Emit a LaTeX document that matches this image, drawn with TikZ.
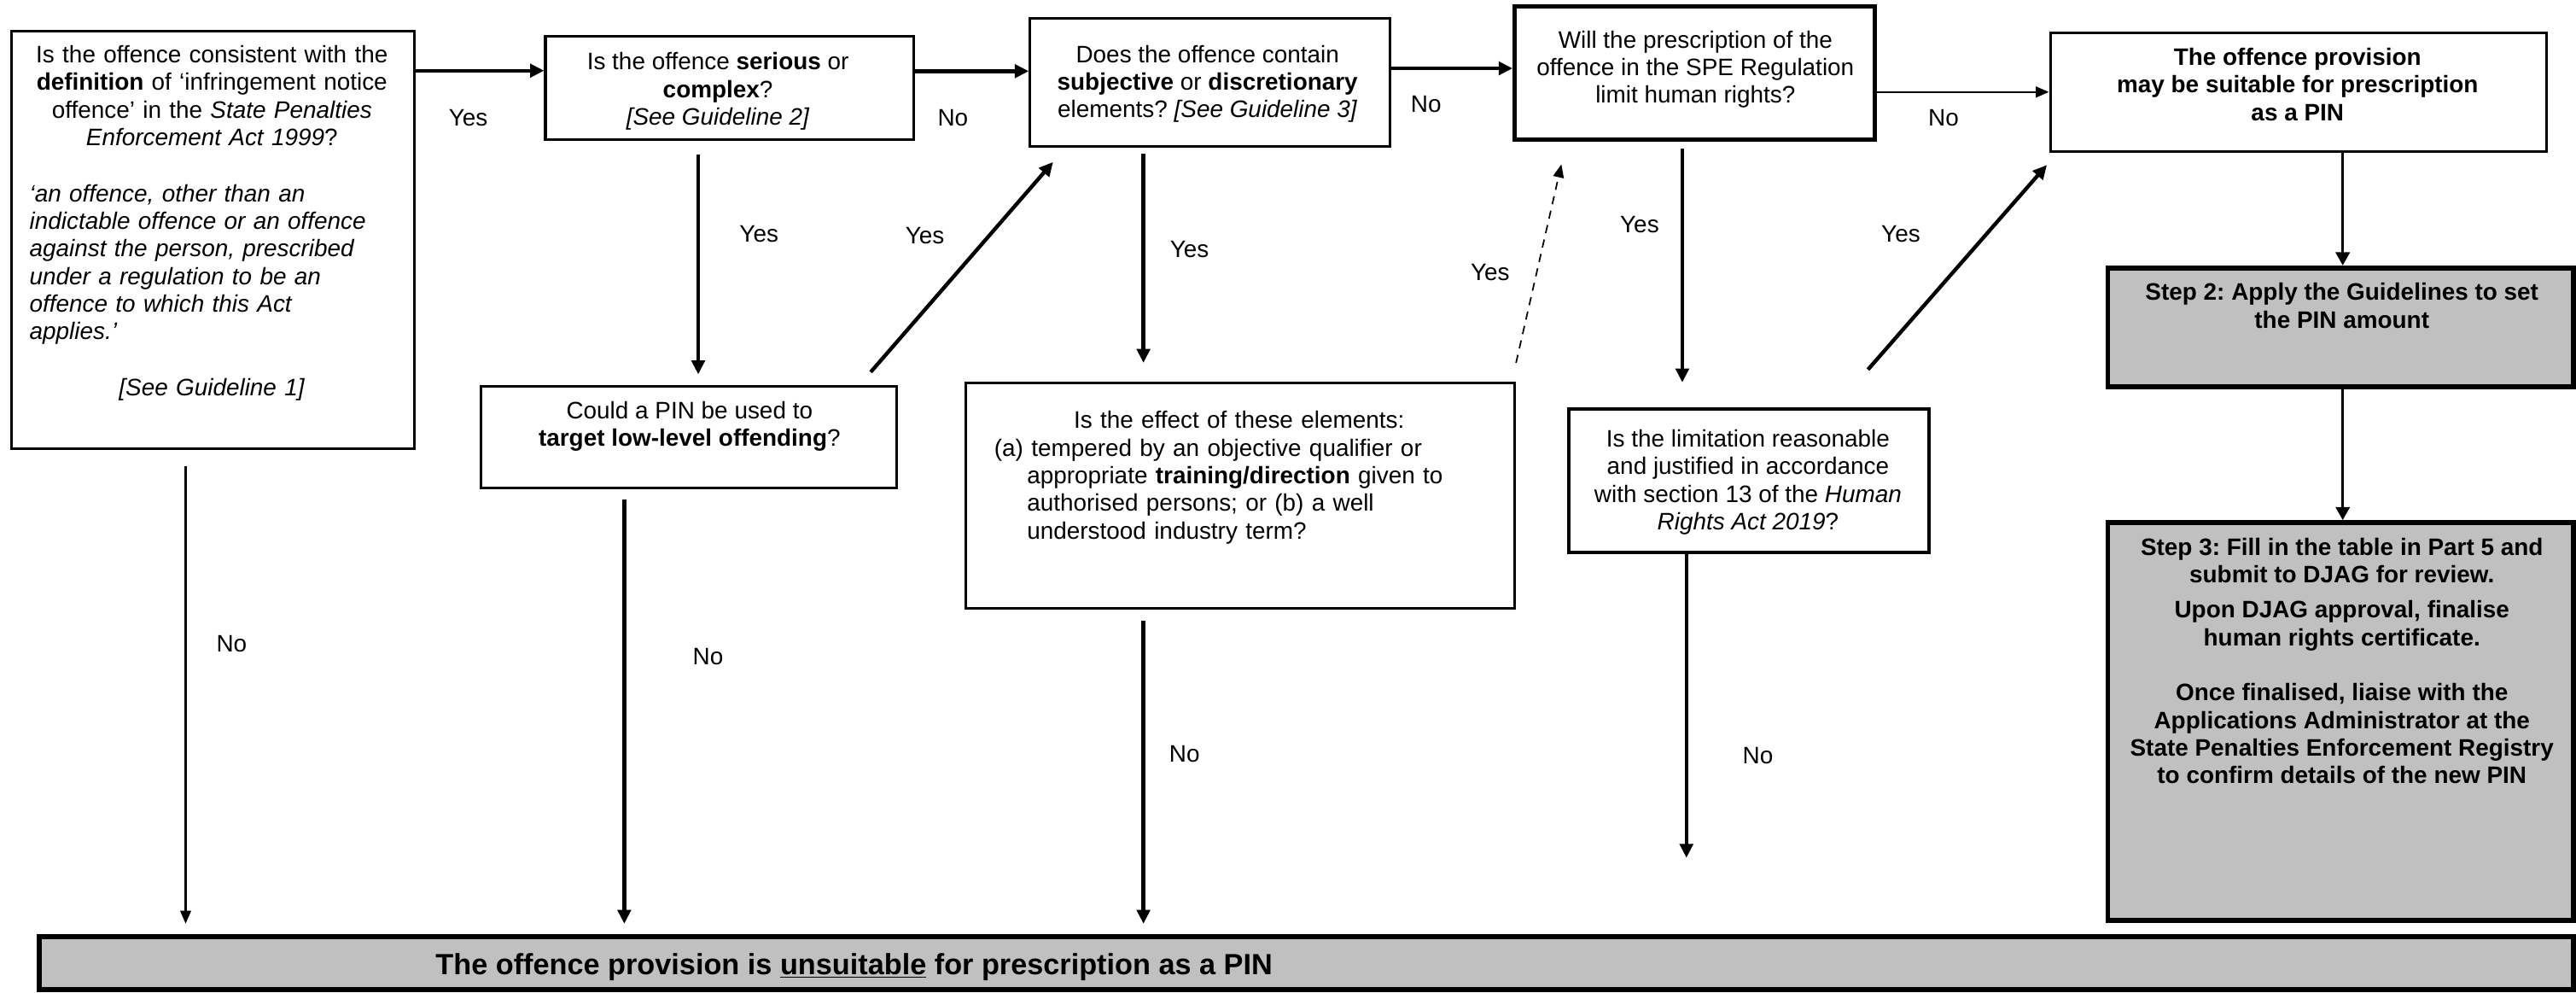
\documentclass[tikz,border=0pt]{standalone}
\usepackage{fontspec}
\setmainfont{Liberation Sans}
\usetikzlibrary{arrows.meta,calc}
\definecolor{panelgrey}{RGB}{192,192,192}
\newcommand{\fs}{\fontsize{14.5pt}{16.8pt}\selectfont}
\newcommand{\fbig}{\fontsize{17.8pt}{20pt}\selectfont\bfseries}
\frenchspacing
\begin{document}
\begin{tikzpicture}[x=1pt,y=-1pt,
  box/.style={draw, line width=1.6pt, fill=white, inner sep=0pt},
  greybox/.style={draw, line width=3pt, fill=panelgrey, inner sep=0pt},
  txt/.style={inner sep=0pt, align=center, font=\fs, anchor=north},
  lbl/.style={inner sep=0pt, font=\fs, anchor=base},
  arr/.style={line width=2.3pt, -{Triangle[length=8.5pt,width=8pt]}},
  marr/.style={line width=1.6pt, -{Triangle[length=8pt,width=8.5pt]}},
  tarr/.style={line width=1.3pt, -{Triangle[length=8pt,width=6.5pt]}},
  darr/.style={line width=0.9pt, dash pattern=on 5pt off 4pt, -{Triangle[length=8pt,width=6.5pt]}}
]
\useasboundingbox (0,0) rectangle (1568,604);

% ---------- boxes ----------
\node[box, minimum width=245pt, minimum height=254pt] (b1) at (129.5,146) {};
\node[box, minimum width=224pt, minimum height=63pt] (b2) at (444,53.5) {};
\node[box, minimum width=219pt, minimum height=78pt] (b3) at (736.5,50) {};
\node[box, line width=2.6pt, minimum width=219pt, minimum height=81pt] (b4) at (1031.5,44.5) {};
\node[box, minimum width=302pt, minimum height=72pt] (b5) at (1399,56) {};
\node[greybox, minimum width=283.5pt, minimum height=72.5pt] (s2) at (1424.75,199.25) {};
\node[greybox, minimum width=283.5pt, minimum height=242pt] (s3) at (1424.75,439) {};
\node[box, minimum width=253pt, minimum height=62pt] (b6) at (419.5,266) {};
\node[box, minimum width=334pt, minimum height=137pt] (b7) at (755,301.5) {};
\node[box, line width=2.2pt, minimum width=219pt, minimum height=87pt] (b8) at (1064.5,292.5) {};
\node[greybox, minimum width=1542.5pt, minimum height=32pt] (b9) at (795.25,586) {};

% ---------- texts ----------
\node[txt, text width=222pt] (b1t) at (129,26.2) {\strut Is the offence consistent with the\\
\textbf{definition} of ‘infringement notice\\
offence’ in the \textit{State Penalties}\\
\textit{Enforcement Act 1999}?\\[17.3pt]
\makebox[222pt][l]{\itshape ‘an offence, other than an}\\
\makebox[222pt][l]{\itshape indictable offence or an offence}\\
\makebox[222pt][l]{\itshape against the person, prescribed}\\
\makebox[222pt][l]{\itshape under a regulation to be an}\\
\makebox[222pt][l]{\itshape offence to which this Act}\\
\makebox[222pt][l]{\itshape applies.’}\\[17.5pt]
\textit{[See Guideline 1]}};

\node[txt] (b2t) at (437,30.6) {\strut Is the offence \textbf{serious} or\\ \textbf{complex}?\\ \textit{[See Guideline 2]}};
\node[txt] (b3t) at (735,26) {\strut Does the offence contain\\ \textbf{subjective} or \textbf{discretionary}\\ elements? \textit{[See Guideline 3]}};
\node[txt] (b4t) at (1032,17.2) {\strut Will the prescription of the\\ offence in the SPE Regulation\\ limit human rights?};
\node[txt, font=\fs\bfseries] (b5t) at (1398.5,27.7) {\strut The offence provision\\ may be suitable for prescription\\ as a PIN};
\node[txt, font=\fs\bfseries] (s2t) at (1425.5,170.9) {\strut Step 2: Apply the Guidelines to set\\ the PIN amount};
\node[txt, font=\fs\bfseries] (s3t) at (1425.5,325.9) {\strut Step 3: Fill in the table in Part 5 and\\ submit to DJAG for review.\\[4.6pt]
Upon DJAG approval, finalise\\ human rights certificate.\\[16.8pt]
Once finalised, liaise with the\\ Applications Administrator at the\\ State Penalties Enforcement Registry\\ to confirm details of the new PIN};
\node[txt] (b6t) at (419.7,242.7) {\strut Could a PIN be used to\\ \textbf{target low-level offending}?};
\node[txt, anchor=north west, align=left, text width=300pt] (b7t) at (605,248.8) {\strut\makebox[298pt][c]{Is the effect of these elements:}\\
(a) tempered by an objective qualifier or\\
\hspace*{20pt}appropriate \textbf{training/direction} given to\\
\hspace*{20pt}authorised persons; or (b) a well\\
\hspace*{20pt}understood industry term?};
\node[txt] (b8t) at (1064,260.1) {\strut Is the limitation reasonable\\ and justified in accordance\\ with section 13 of the \textit{Human}\\ \textit{Rights Act 2019}?};
\node[inner sep=0pt, anchor=base west, font=\fbig] (b9t) at (265,593) {The offence provision is \underline{unsuitable} for prescription as a PIN};

% ---------- connectors ----------
\coordinate (p12) at ([yshift=10.5pt]b2.west);
\draw[arr] (b1.east |- p12) -- (p12);
\coordinate (p23) at ([yshift=6.7pt]b3.west);
\draw[arr] (b2.east |- p23) -- (p23);
\coordinate (p34) at ([yshift=2.9pt]b4.west);
\draw[arr] (b3.east |- p34) -- (p34);
\draw[tarr] (b4.east |- b5.west) -- (b5.west);
\draw[marr] ([xshift=1.25pt]b5.south -| s2.north) -- ([xshift=1.25pt]s2.north);
\draw[marr] ([xshift=1.25pt]s2.south) -- ([xshift=1.25pt]s3.north);

\draw[arr] ([xshift=-19pt,yshift=-8pt]b2.south) -- ([xshift=5.5pt,yshift=6.4pt]b6.north);
\draw[arr] ([xshift=110.5pt,yshift=7.8pt]b6.north) -- ([xshift=-95.5pt,yshift=-8.8pt]b3.south);
\draw[arr] ([xshift=-39.5pt,yshift=-6pt]b6.south) -- ([xshift=-415.25pt,yshift=6.4pt]b9.north);
\draw[tarr] ([xshift=-16.5pt,yshift=-10pt]b1.south) -- ([xshift=-682.25pt,yshift=6.4pt]b9.north);
\draw[arr] ([xshift=-40.5pt,yshift=-3.6pt]b3.south) -- ([xshift=-59pt,yshift=11.4pt]b7.north);
\draw[darr] ([yshift=11.4pt]b7.north east) -- ([xshift=-81.1pt,yshift=-13.7pt]b4.south);
\draw[arr] ([xshift=-59pt,yshift=-7pt]b7.south) -- ([xshift=-99.25pt,yshift=6.4pt]b9.north);
\draw[arr] ([xshift=-7.5pt,yshift=-4.2pt]b4.south) -- ([xshift=-40.5pt,yshift=15.2pt]b8.north);
\draw[arr] ([xshift=72.5pt,yshift=23pt]b8.north) -- ([xshift=-1.3pt,yshift=-7.6pt]b5.south west);
\coordinate (e8) at (1026.5,522);
\draw[arr] (b8.south -| e8) -- (e8);

% ---------- labels ----------
\node[lbl] (y12) at (285,76.5) {Yes};
\node[lbl] (n23) at (580,76.5) {No};
\node[lbl] (n34) at (868,68.5) {No};
\node[lbl] (n45) at (1183,76.5) {No};
\node[lbl] (y26) at (462,147.5) {Yes};
\node[lbl] (y63) at (563,148.5) {Yes};
\node[lbl] (y37) at (724,156.5) {Yes};
\node[lbl] (y74) at (907,170.5) {Yes};
\node[lbl] (y48) at (998,141.5) {Yes};
\node[lbl] (y85) at (1157,147.5) {Yes};
\node[lbl] (n19) at (141,396.5) {No};
\node[lbl] (n69) at (431,404.5) {No};
\node[lbl] (n79) at (721,463.5) {No};
\node[lbl] (n8) at (1070,464.5) {No};
\end{tikzpicture}
\end{document}
